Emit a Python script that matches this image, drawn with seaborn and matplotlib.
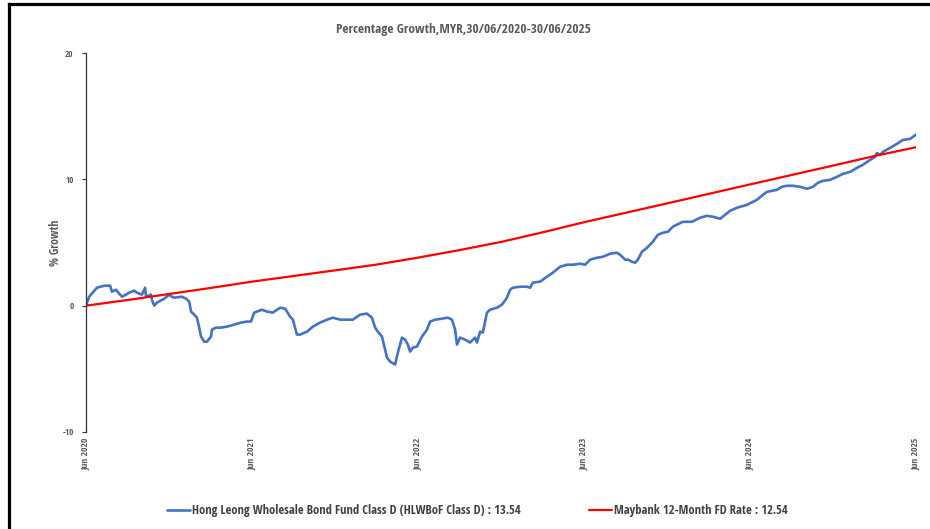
import numpy as np
import pandas as pd
import matplotlib
matplotlib.use("Agg")
import matplotlib.pyplot as plt
from matplotlib.lines import Line2D
import seaborn as sns

# ---------------- data ----------------
start_date = "2020-06-30"
fund_name = "Hong Leong Wholesale Bond Fund Class D (HLWBoF Class D) : 13.54"
fd_name = "Maybank 12-Month FD Rate : 12.54"

# days since 30/06/2020 and % growth of the fund
fund_days = [0, 7, 24, 40, 53, 57, 66, 73, 79, 88, 95, 106, 112, 123, 130, 132, 143, 145, 150, 156,
             172, 183, 189, 194, 211, 220, 227, 231, 238, 244, 249, 253, 260, 266, 275, 277, 286, 297,
             310, 326, 341, 354, 363, 370, 387, 398, 411, 427, 438, 449, 455, 464, 471, 486, 499, 515,
             530, 543, 559, 574, 587, 603, 618, 629, 636, 642, 651, 658, 662, 669, 680, 686, 695, 702,
             708, 713, 719, 728, 739, 750, 757, 768, 783, 796, 805, 812, 816, 823, 834, 845, 856, 860,
             867, 873, 882, 889, 904, 915, 926, 933, 939, 955, 970, 977, 983, 999, 1014, 1027, 1043,
             1058, 1071, 1087, 1098, 1109, 1124, 1137, 1153, 1168, 1175, 1186, 1192, 1201, 1208, 1214,
             1223, 1234, 1247, 1258, 1269, 1280, 1291, 1313, 1333, 1351, 1366, 1379, 1395, 1406, 1417,
             1432, 1454, 1476, 1489, 1498, 1520, 1531, 1542, 1555, 1571, 1586, 1599, 1610, 1621, 1637,
             1652, 1665, 1681, 1696, 1709, 1725, 1736, 1740, 1747, 1753, 1769, 1784, 1797, 1813, 1826]
fund_growth = [0.00, 0.71, 1.42, 1.58, 1.58, 1.11, 1.26, 0.95, 0.71, 0.87, 1.03, 1.19, 1.03, 0.87, 1.42,
               0.71, 0.87, 0.47, 0.00, 0.24, 0.55, 0.87, 0.71, 0.63, 0.71, 0.55, 0.32, -0.47, -0.71,
               -0.95, -1.74, -2.45, -2.85, -2.85, -2.45, -1.90, -1.74, -1.74, -1.66, -1.50, -1.34, -1.26,
               -1.26, -0.55, -0.32, -0.47, -0.55, -0.16, -0.24, -0.87, -1.11, -2.29, -2.29, -2.06, -1.66,
               -1.34, -1.11, -0.95, -1.11, -1.11, -1.11, -0.71, -0.63, -0.95, -1.74, -2.06, -2.45, -3.48,
               -4.11, -4.43, -4.66, -3.72, -2.53, -2.69, -3.08, -3.64, -3.32, -3.24, -2.45, -1.90, -1.26,
               -1.11, -1.03, -0.95, -1.11, -1.90, -3.08, -2.53, -2.69, -2.92, -2.53, -2.92, -2.06, -2.13,
               -0.55, -0.32, -0.16, 0.08, 0.63, 1.26, 1.42, 1.50, 1.50, 1.42, 1.82, 1.90, 2.29, 2.61,
               3.08, 3.24, 3.24, 3.32, 3.24, 3.64, 3.79, 3.87, 4.11, 4.19, 4.03, 3.64, 3.64, 3.48, 3.40,
               3.64, 4.27, 4.58, 5.06, 5.61, 5.77, 5.85, 6.25, 6.64, 6.64, 6.96, 7.11, 7.04, 6.88, 7.19,
               7.51, 7.75, 7.98, 8.38, 8.77, 9.01, 9.17, 9.41, 9.49, 9.49, 9.41, 9.25, 9.41, 9.72, 9.88,
               9.96, 10.20, 10.43, 10.59, 10.91, 11.15, 11.54, 11.78, 12.09, 11.94, 12.17, 12.49, 12.81,
               13.12, 13.20, 13.54]

fd_dates = ["2020-06-30", "2020-09-30", "2020-12-31", "2021-03-31", "2021-06-30", "2021-09-30",
            "2021-12-31", "2022-03-31", "2022-06-30", "2022-09-30", "2022-12-31", "2023-03-31",
            "2023-06-30", "2023-09-30", "2023-12-31", "2024-03-31", "2024-06-30", "2024-09-30",
            "2024-12-31", "2025-03-31", "2025-06-30"]
fd_growth = [0.00, 0.45, 0.93, 1.40, 1.90, 2.35, 2.80, 3.25, 3.80, 4.40, 5.05, 5.80, 6.60, 7.35,
             8.10, 8.85, 9.60, 10.35, 11.10, 11.85, 12.54]

tick_dates = ["2020-06-30", "2021-06-30", "2022-06-30", "2023-06-30", "2024-06-30", "2025-06-30"]
tick_labels = ["Jun 2020", "Jun 2021", "Jun 2022", "Jun 2023", "Jun 2024", "Jun 2025"]
y_ticks = [-10, 0, 10, 20]

title = "Percentage Growth,MYR,30/06/2020-30/06/2025"
y_label = "% Growth"

# ---------------- frames ----------------
fund_df = pd.DataFrame({
    "date": pd.Timestamp(start_date) + pd.to_timedelta(fund_days, unit="D"),
    "growth": fund_growth,
})
fd_df = pd.DataFrame({"date": pd.to_datetime(fd_dates), "growth": fd_growth})

# ---------------- style ----------------
sns.set_style("white")
plt.rcParams["font.family"] = ["Open Sans Condensed", "Open Sans", "DejaVu Sans"]
grey = "#595959"
blue = "#4472C4"
red = "#FF0000"

fig = plt.figure(figsize=(9.30, 5.29), dpi=100)
ax = fig.add_axes([0.0925, 0.1834, 0.8925, 0.7164])

sns.lineplot(data=fund_df, x="date", y="growth", ax=ax, color=blue, linewidth=1.9)
sns.lineplot(data=fd_df, x="date", y="growth", ax=ax, color=red, linewidth=1.6)

ax.set_xlim(pd.Timestamp(tick_dates[0]), pd.Timestamp(tick_dates[-1]))
ax.set_ylim(-10, 20)
ax.set_yticks(y_ticks)
ax.set_yticklabels([str(v) for v in y_ticks], fontsize=6.5, color=grey, fontweight="bold")
ax.set_xticks(pd.to_datetime(tick_dates))
ax.set_xticklabels(tick_labels, rotation=90, fontsize=6.8, color=grey, fontweight="bold",
                   va="top", ha="center")
ax.tick_params(axis="y", direction="out", length=3, width=0.8, color="#333333", pad=6, left=True)
ax.tick_params(axis="x", length=0, pad=4)

for s in ["top", "right", "bottom"]:
    ax.spines[s].set_visible(False)
ax.spines["left"].set_color("#333333")
ax.spines["left"].set_linewidth(0.9)

ax.set_xlabel("")
ax.set_ylabel(y_label, fontsize=8.5, color=grey, fontweight="bold")
ax.yaxis.set_label_coords(-0.029, 0.5)
ax.grid(False)

fig.text(0.498, 0.945, title, ha="center", va="center", fontsize=9.5, color=grey, fontweight="bold")

handles = [Line2D([0], [0], color=blue, linewidth=1.9), Line2D([0], [0], color=red, linewidth=1.6)]
leg = fig.legend(handles, [fund_name, fd_name], loc="center", bbox_to_anchor=(0.513, 0.035),
                 ncol=2, frameon=False, fontsize=9, handlelength=1.85, handletextpad=0.15,
                 columnspacing=5.5)
for t in leg.get_texts():
    t.set_color("#404040")
    t.set_fontweight("bold")

# screenshot frame (left and top border)
fig.add_artist(Line2D([0.0097, 0.0097], [0.0, 0.9915], transform=fig.transFigure,
                      color="black", linewidth=2.3, solid_capstyle="projecting"))
fig.add_artist(Line2D([0.0097, 1.0], [0.9915, 0.9915], transform=fig.transFigure,
                      color="black", linewidth=2.3, solid_capstyle="projecting"))

fig.savefig("out.png", dpi=100)
